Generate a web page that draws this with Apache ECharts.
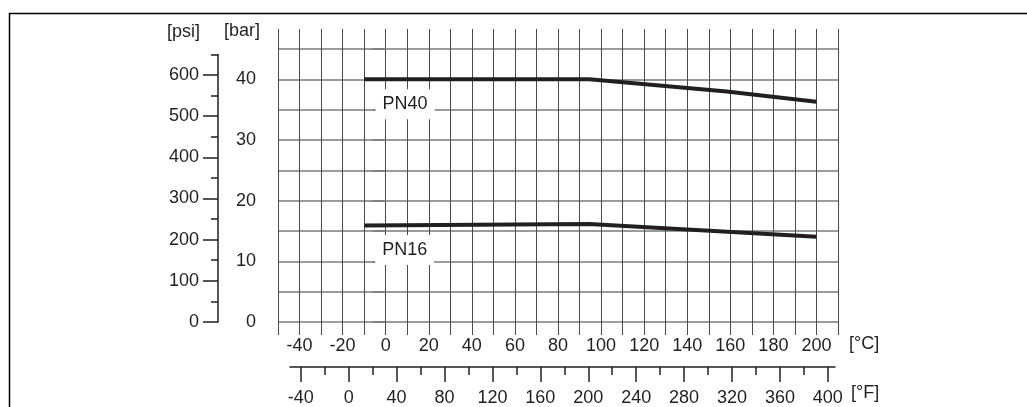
<!DOCTYPE html>
<html>
<head>
<meta charset="utf-8">
<script src="https://cdn.jsdelivr.net/npm/echarts@6/dist/echarts.min.js"></script>
<style>
html,body{margin:0;padding:0;background:#fff;}
#chart{width:1027px;height:407px;}
</style>
</head>
<body>
<div id="chart"></div>
<script>
// ---- data ----
const pn40Temp = [-10, 94.5, 158.3, 200];
const pn40Bar  = [40, 40, 38.0, 36.3];
const pn16Temp = [-10, 94.5, 200];
const pn16Bar  = [15.9, 16.15, 14.05];
const celsiusLabels = [-40, -20, 0, 20, 40, 60, 80, 100, 120, 140, 160, 180, 200];
const barLabels = [0, 10, 20, 30, 40];
const psiMajor = [0, 100, 200, 300, 400, 500, 600];
const psiMinor = [50, 150, 250, 350, 450, 550, 650];
const fahrenheitMajor = [-40, 0, 40, 80, 120, 160, 200, 240, 280, 320, 360, 400];
const fahrenheitMinor = [-20, 20, 60, 100, 140, 180, 220, 260, 300, 340, 380];
const seriesNames = ['PN40', 'PN16'];

const INK = '#231f20';
const FONT = '"Liberation Sans", Arial, sans-serif';
const GRIDV = '#4a4a4a';
const GRIDH = '#7a7a7a';

function pairs(xs, ys) { return xs.map((x, i) => [x, ys[i]]); }

const chart = echarts.init(document.getElementById('chart'), null, {renderer: 'canvas'});
const txt = {color: INK, fontSize: 18, fontFamily: FONT};

function lbl(name, coord) {
  return {
    symbol: 'circle', symbolSize: 1, silent: true,
    itemStyle: {color: 'rgba(0,0,0,0)'},
    label: Object.assign({show: true, position: 'inside', formatter: name,
      backgroundColor: '#ffffff', padding: [6, 7]}, txt),
    data: [{coord: coord}]
  };
}

chart.setOption({
  animation: false,
  backgroundColor: '#ffffff',
  textStyle: {fontFamily: FONT},
  title: {
    text: '[bar]', right: 767, top: 22, padding: 0,
    textStyle: Object.assign({fontWeight: 'normal'}, txt)
  },
  graphic: [{
    type: 'polyline', silent: true,
    shape: {points: [[9.5, 407], [9.5, 13.5], [1027, 13.5]]},
    style: {stroke: '#000', lineWidth: 1.5, fill: null}
  }],
  grid: [
    {left: 278, top: 49, width: 560, height: 273},
    {left: 278, top: 29, width: 560, height: 306},
    {left: 218, top: 54.4, width: 1, height: 267.6},
    {left: 290, top: 366, width: 545, height: 1}
  ],
  xAxis: [
    {gridIndex: 0, type: 'value', min: -50, max: 210, interval: 10, show: false},
    {gridIndex: 1, type: 'value', min: -50, max: 210, interval: 10, position: 'bottom',
      axisLine: {show: false}, axisTick: {show: false},
      splitLine: {show: true, lineStyle: {color: GRIDV, width: 1}},
      axisLabel: Object.assign({customValues: celsiusLabels, margin: 2}, txt),
      name: '[°C]', nameLocation: 'end', nameGap: 11,
      nameTextStyle: Object.assign({verticalAlign: 'top', align: 'left'}, txt)},
    {gridIndex: 2, type: 'value', min: 0, max: 1, show: false},
    {gridIndex: 3, type: 'value', min: -49, max: 406, position: 'bottom',
      axisLine: {show: true, lineStyle: {color: INK, width: 1.5}},
      axisTick: {show: true, customValues: fahrenheitMajor, length: 15, lineStyle: {color: INK, width: 1.5}},
      axisLabel: Object.assign({customValues: fahrenheitMajor, margin: 22}, txt),
      splitLine: {show: false},
      name: '[°F]', nameLocation: 'end', nameGap: 16,
      nameTextStyle: Object.assign({verticalAlign: 'top', align: 'left', padding: [17, 0, 0, 0]}, txt)},
    {gridIndex: 3, type: 'value', min: -49, max: 406, position: 'bottom',
      axisLine: {show: false},
      axisTick: {show: true, customValues: fahrenheitMinor, length: 8, lineStyle: {color: INK, width: 1.5}},
      axisLabel: {show: false}, splitLine: {show: false}}
  ],
  yAxis: [
    {gridIndex: 0, type: 'value', min: 0, max: 45, interval: 5,
      axisLine: {show: false},
      axisTick: {show: true, length: 13, lineStyle: {color: GRIDH, width: 1.5}},
      splitLine: {show: true, lineStyle: {color: GRIDH, width: 1.5}},
      axisLabel: Object.assign({customValues: barLabels, margin: 22}, txt)},
    {gridIndex: 1, type: 'value', min: 0, max: 1, show: false},
    {gridIndex: 2, type: 'value', min: 0, max: 650, position: 'left',
      axisLine: {show: true, lineStyle: {color: INK, width: 1.5}},
      axisTick: {show: true, customValues: psiMajor, length: 15, lineStyle: {color: INK, width: 1.5}},
      axisLabel: Object.assign({customValues: psiMajor, margin: 19}, txt),
      splitLine: {show: false},
      name: '[psi]', nameLocation: 'end', nameGap: 22.7,
      nameTextStyle: Object.assign({verticalAlign: 'middle', align: 'right', padding: [0, 18, 0, 0]}, txt)},
    {gridIndex: 2, type: 'value', min: 0, max: 650, position: 'left',
      axisLine: {show: false},
      axisTick: {show: true, customValues: psiMinor, length: 7, lineStyle: {color: INK, width: 1.5}},
      axisLabel: {show: false}, splitLine: {show: false}},
    {gridIndex: 3, type: 'value', min: 0, max: 1, show: false}
  ],
  series: [
    {name: seriesNames[0], type: 'line', xAxisIndex: 0, yAxisIndex: 0,
      data: pairs(pn40Temp, pn40Bar), showSymbol: false, symbol: 'none',
      lineStyle: {color: INK, width: 4, join: 'miter'}, z: 5,
      markPoint: lbl(seriesNames[0], [9, 35.9])},
    {name: seriesNames[1], type: 'line', xAxisIndex: 0, yAxisIndex: 0,
      data: pairs(pn16Temp, pn16Bar), showSymbol: false, symbol: 'none',
      lineStyle: {color: INK, width: 4, join: 'miter'}, z: 5,
      markPoint: lbl(seriesNames[1], [8.8, 11.87])}
  ]
});
</script>
</body>
</html>
